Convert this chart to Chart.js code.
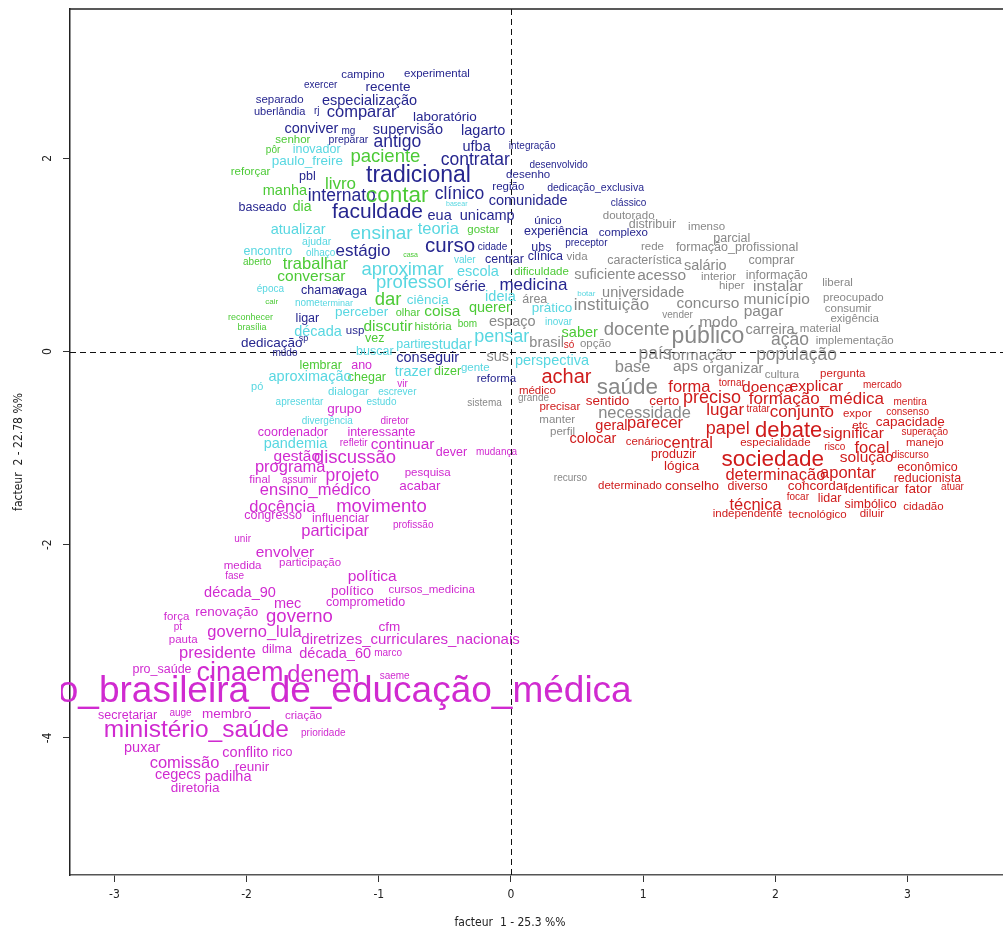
<!DOCTYPE html>
<html>
<head>
<meta charset="utf-8">
<script src="https://cdn.jsdelivr.net/npm/chart.js@4"></script>
<style>
  html, body { margin: 0; padding: 0; background: #fff; }
  canvas { display: block; }
</style>
</head>
<body>
<canvas id="afcChart" width="1003" height="931"></canvas>
<script>
// tick values of the two factor axes
const xTicks = [-3, -2, -1, 0, 1, 2, 3];
const yTicks = [-4, -2, 0, 2];
const xTitle = "facteur  1 - 25.3 %%";
const yTitle = "facteur  2 - 22.78 %%";

// each class: [word, facteur 1, facteur 2, chi2]
const classBlue = [
  ["campino", -1.12, 2.86, 22], ["experimental", -0.56, 2.87, 22], ["exercer", -1.44, 2.76, 16],
  ["recente", -0.93, 2.74, 30], ["separado", -1.75, 2.61, 22], ["especialização", -1.07, 2.59, 34],
  ["uberlândia", -1.75, 2.48, 20], ["rj", -1.47, 2.49, 16], ["comparar", -1.13, 2.48, 42],
  ["laboratório", -0.50, 2.43, 30], ["conviver", -1.51, 2.30, 34], ["mg", -1.23, 2.28, 16],
  ["supervisão", -0.78, 2.29, 34], ["lagarto", -0.21, 2.28, 34], ["preparar", -1.23, 2.19, 18],
  ["antigo", -0.86, 2.17, 46], ["ufba", -0.26, 2.12, 34], ["integração", 0.16, 2.13, 16],
  ["contratar", -0.27, 1.98, 46], ["desenvolvido", 0.36, 1.93, 16], ["pbl", -1.54, 1.81, 26],
  ["tradicional", -0.70, 1.82, 68], ["desenho", 0.13, 1.83, 22], ["internato", -1.28, 1.61, 46],
  ["clínico", -0.39, 1.63, 46], ["região", -0.02, 1.70, 22], ["dedicação_exclusiva", 0.64, 1.69, 18],
  ["comunidade", 0.13, 1.56, 34], ["clássico", 0.89, 1.53, 16], ["baseado", -1.88, 1.49, 26],
  ["faculdade", -1.01, 1.44, 60], ["eua", -0.54, 1.40, 34], ["unicamp", -0.18, 1.40, 34],
  ["único", 0.28, 1.35, 22], ["experiência", 0.34, 1.24, 26], ["complexo", 0.85, 1.23, 22],
  ["estágio", -1.12, 1.04, 44], ["curso", -0.46, 1.09, 58], ["cidade", -0.14, 1.08, 16],
  ["ubs", 0.23, 1.08, 26], ["preceptor", 0.57, 1.12, 16], ["centrar", -0.05, 0.95, 26],
  ["clínica", 0.26, 0.98, 26], ["chamar", -1.43, 0.63, 26], ["vaga", -1.20, 0.62, 30],
  ["série", -0.31, 0.67, 34], ["medicina", 0.17, 0.69, 44], ["ligar", -1.54, 0.34, 26],
  ["usp", -1.18, 0.21, 22], ["dedicação", -1.81, 0.09, 30], ["sp", -1.57, 0.13, 12],
  ["mudo", -1.71, -0.02, 16], ["conseguir", -0.63, -0.07, 34], ["reforma", -0.11, -0.28, 22]
];

const classGreen = [
  ["senhor", -1.65, 2.19, 22], ["pôr", -1.80, 2.08, 16], ["paciente", -0.95, 2.01, 50],
  ["reforçar", -1.97, 1.86, 22], ["livro", -1.29, 1.73, 44], ["manha", -1.71, 1.66, 34],
  ["contar", -0.86, 1.61, 66], ["dia", -1.58, 1.49, 32], ["gostar", -0.21, 1.26, 22],
  ["casa", -0.76, 1.00, 4], ["aberto", -1.92, 0.92, 16], ["trabalhar", -1.48, 0.90, 42],
  ["conversar", -1.51, 0.77, 38], ["dificuldade", 0.23, 0.82, 22], ["cair", -1.81, 0.51, 8],
  ["dar", -0.93, 0.53, 50], ["reconhecer", -1.97, 0.35, 12], ["olhar", -0.78, 0.40, 20],
  ["coisa", -0.52, 0.41, 38], ["querer", -0.16, 0.45, 34], ["brasília", -1.96, 0.25, 12],
  ["discutir", -0.93, 0.26, 38], ["história", -0.59, 0.26, 22], ["bom", -0.33, 0.28, 16],
  ["vez", -1.03, 0.13, 26], ["saber", 0.52, 0.19, 34], ["lembrar", -1.44, -0.15, 26],
  ["dizer", -0.48, -0.21, 26], ["chegar", -1.09, -0.27, 26]
];

const classCyan = [
  ["inovador", -1.47, 2.09, 26], ["paulo_freire", -1.54, 1.97, 30], ["basear", -0.41, 1.53, 4],
  ["atualizar", -1.61, 1.26, 34], ["ensinar", -0.98, 1.22, 52], ["teoria", -0.55, 1.26, 42],
  ["ajudar", -1.47, 1.13, 18], ["encontro", -1.84, 1.04, 26], ["olhaço", -1.44, 1.02, 16],
  ["valer", -0.35, 0.95, 16], ["aproximar", -0.82, 0.84, 50], ["escola", -0.25, 0.82, 34],
  ["época", -1.82, 0.64, 16], ["professor", -0.73, 0.71, 50], ["nome", -1.54, 0.50, 16],
  ["terminar", -1.32, 0.50, 12], ["ciência", -0.63, 0.53, 30], ["ideia", -0.08, 0.56, 34],
  ["botar", 0.57, 0.60, 8], ["perceber", -1.13, 0.41, 30], ["prático", 0.31, 0.45, 30],
  ["década", -1.46, 0.20, 34], ["inovar", 0.36, 0.30, 16], ["partir", -0.76, 0.07, 26],
  ["estudar", -0.48, 0.07, 34], ["pensar", -0.07, 0.15, 48], ["buscar", -1.03, 0.00, 26],
  ["perspectiva", 0.31, -0.10, 34], ["trazer", -0.74, -0.21, 34], ["gente", -0.27, -0.17, 22],
  ["aproximação", -1.52, -0.26, 34], ["pó", -1.92, -0.37, 20], ["dialogar", -1.23, -0.42, 22],
  ["escrever", -0.86, -0.42, 16], ["apresentar", -1.60, -0.53, 16], ["estudo", -0.98, -0.53, 16],
  ["divergência", -1.39, -0.72, 16], ["pandemia", -1.63, -0.96, 34]
];

const classGrey = [
  ["doutorado", 0.89, 1.41, 22], ["distribuir", 1.07, 1.31, 26], ["imenso", 1.48, 1.29, 22],
  ["parcial", 1.67, 1.17, 26], ["rede", 1.07, 1.08, 22], ["formação_profissional", 1.71, 1.08, 26],
  ["vida", 0.50, 0.98, 22], ["característica", 1.01, 0.94, 26], ["salário", 1.47, 0.89, 34],
  ["comprar", 1.97, 0.94, 26], ["suficiente", 0.71, 0.79, 34], ["acesso", 1.14, 0.78, 38],
  ["interior", 1.57, 0.77, 22], ["informação", 2.01, 0.79, 26], ["hiper", 1.67, 0.68, 22],
  ["instalar", 2.02, 0.67, 38], ["liberal", 2.47, 0.71, 22], ["área", 0.18, 0.54, 26],
  ["universidade", 1.00, 0.61, 34], ["município", 2.01, 0.54, 38], ["preocupado", 2.59, 0.56, 22],
  ["instituição", 0.76, 0.48, 44], ["concurso", 1.49, 0.50, 38], ["consumir", 2.55, 0.44, 22],
  ["espaço", 0.01, 0.31, 34], ["vender", 1.26, 0.38, 16], ["pagar", 1.91, 0.41, 38],
  ["exigência", 2.60, 0.34, 22], ["docente", 0.95, 0.22, 50], ["modo", 1.57, 0.30, 38],
  ["público", 1.49, 0.15, 68], ["carreira", 1.96, 0.22, 34], ["material", 2.34, 0.24, 22],
  ["ação", 2.11, 0.12, 46], ["implementação", 2.60, 0.11, 22], ["brasil", 0.27, 0.09, 34],
  ["opção", 0.64, 0.08, 22], ["sus", -0.10, -0.06, 34], ["país", 1.09, -0.03, 46],
  ["formação", 1.43, -0.04, 38], ["população", 2.16, -0.04, 46], ["base", 0.92, -0.16, 42],
  ["aps", 1.32, -0.16, 38], ["organizar", 1.68, -0.18, 34], ["cultura", 2.05, -0.24, 22],
  ["grande", 0.17, -0.48, 16], ["saúde", 0.88, -0.38, 66], ["sistema", -0.20, -0.54, 16],
  ["manter", 0.35, -0.71, 22], ["necessidade", 1.01, -0.64, 42], ["perfil", 0.39, -0.83, 22],
  ["recurso", 0.45, -1.31, 16]
];

const classRed = [
  ["só", 0.44, 0.06, 16], ["pergunta", 2.51, -0.23, 22], ["achar", 0.42, -0.27, 56],
  ["médico", 0.20, -0.41, 22], ["forma", 1.35, -0.37, 42], ["tornar", 1.67, -0.33, 16],
  ["doença", 1.94, -0.37, 38], ["explicar", 2.31, -0.36, 38], ["mercado", 2.81, -0.35, 16],
  ["precisar", 0.37, -0.57, 22], ["sentido", 0.73, -0.52, 30], ["certo", 1.16, -0.51, 30],
  ["preciso", 1.52, -0.48, 48], ["formação_médica", 2.31, -0.49, 44], ["mentira", 3.02, -0.52, 16],
  ["lugar", 1.62, -0.61, 44], ["tratar", 1.87, -0.60, 16], ["conjunto", 2.20, -0.63, 44],
  ["expor", 2.62, -0.64, 22], ["consenso", 3.00, -0.63, 16], ["geral", 0.76, -0.77, 34],
  ["parecer", 1.09, -0.74, 42], ["papel", 1.64, -0.80, 48], ["debate", 2.10, -0.82, 64],
  ["etc", 2.64, -0.77, 22], ["capacidade", 3.02, -0.73, 30], ["significar", 2.59, -0.85, 38],
  ["superação", 3.13, -0.84, 16], ["colocar", 0.62, -0.91, 34], ["cenário", 1.01, -0.93, 22],
  ["central", 1.34, -0.95, 42], ["especialidade", 2.00, -0.95, 22], ["risco", 2.45, -0.99, 16],
  ["focal", 2.73, -1.00, 42], ["manejo", 3.13, -0.94, 22], ["produzir", 1.23, -1.07, 26],
  ["lógica", 1.29, -1.19, 30], ["sociedade", 1.98, -1.12, 66], ["solução", 2.69, -1.10, 38],
  ["discurso", 3.02, -1.07, 16], ["determinação", 2.00, -1.28, 42], ["apontar", 2.55, -1.26, 42],
  ["econômico", 3.15, -1.20, 26], ["reducionista", 3.15, -1.31, 26], ["determinado", 0.90, -1.39, 22],
  ["conselho", 1.37, -1.39, 30], ["diverso", 1.79, -1.40, 26], ["concordar", 2.32, -1.40, 30],
  ["identificar", 2.73, -1.43, 26], ["fator", 3.08, -1.43, 30], ["atuar", 3.34, -1.41, 16],
  ["focar", 2.17, -1.51, 16], ["lidar", 2.41, -1.52, 26], ["simbólico", 2.72, -1.58, 26],
  ["cidadão", 3.12, -1.61, 22], ["técnica", 1.85, -1.59, 42], ["independente", 1.79, -1.68, 22],
  ["tecnológico", 2.32, -1.69, 22], ["diluir", 2.73, -1.68, 22]
];

const classMagenta = [
  ["ano", -1.13, -0.15, 26], ["vir", -0.82, -0.34, 16], ["grupo", -1.26, -0.60, 30],
  ["diretor", -0.88, -0.72, 16], ["coordenador", -1.65, -0.84, 26], ["interessante", -0.98, -0.84, 26],
  ["refletir", -1.19, -0.95, 16], ["continuar", -0.82, -0.96, 38], ["dever", -0.45, -1.05, 26],
  ["mudança", -0.11, -1.04, 16], ["gestão", -1.62, -1.09, 38], ["discussão", -1.18, -1.10, 50],
  ["programa", -1.67, -1.20, 42], ["final", -1.90, -1.33, 22], ["assumir", -1.60, -1.33, 16],
  ["projeto", -1.20, -1.29, 46], ["pesquisa", -0.63, -1.26, 22], ["acabar", -0.69, -1.39, 30],
  ["ensino_médico", -1.48, -1.44, 42], ["docência", -1.73, -1.61, 42], ["movimento", -0.98, -1.61, 50],
  ["congresso", -1.80, -1.70, 26], ["influenciar", -1.29, -1.73, 26], ["profissão", -0.74, -1.80, 16],
  ["participar", -1.33, -1.86, 42], ["unir", -2.03, -1.94, 16], ["envolver", -1.71, -2.08, 38],
  ["participação", -1.52, -2.19, 22], ["medida", -2.03, -2.22, 22], ["fase", -2.09, -2.33, 16],
  ["política", -1.05, -2.33, 38], ["década_90", -2.05, -2.50, 34], ["político", -1.20, -2.48, 30],
  ["cursos_medicina", -0.60, -2.47, 22], ["mec", -1.69, -2.61, 34], ["comprometido", -1.10, -2.60, 26],
  ["força", -2.53, -2.75, 22], ["renovação", -2.15, -2.70, 30], ["governo", -1.60, -2.75, 50],
  ["pt", -2.52, -2.85, 16], ["cfm", -0.92, -2.85, 30], ["pauta", -2.48, -2.98, 22],
  ["governo_lula", -1.94, -2.91, 42], ["diretrizes_curriculares_nacionais", -0.76, -2.98, 36],
  ["presidente", -2.22, -3.13, 42], ["dilma", -1.77, -3.08, 26], ["década_60", -1.33, -3.13, 34],
  ["marco", -0.93, -3.12, 16], ["pro_saúde", -2.64, -3.29, 26], ["cinaem", -2.05, -3.33, 84],
  ["denem", -1.42, -3.35, 70], ["saeme", -0.88, -3.36, 16],
  ["associação_brasileira_de_educação_médica", -1.88, -3.52, 124],
  ["secretariar", -2.90, -3.77, 26], ["auge", -2.50, -3.74, 16], ["membro", -2.15, -3.76, 30],
  ["criação", -1.57, -3.77, 22], ["ministério_saúde", -2.38, -3.92, 74], ["prioridade", -1.42, -3.95, 16],
  ["puxar", -2.79, -4.10, 34], ["conflito", -2.01, -4.16, 34], ["rico", -1.73, -4.15, 26],
  ["comissão", -2.47, -4.26, 42], ["reunir", -1.96, -4.30, 30], ["cegecs", -2.52, -4.38, 34],
  ["padilha", -2.14, -4.40, 34], ["diretoria", -2.39, -4.52, 30]
];

const classes = [
  { words: classBlue, color: "#26268f" },
  { words: classGreen, color: "#4cca36" },
  { words: classCyan, color: "#58d7e1" },
  { words: classGrey, color: "#888888" },
  { words: classRed, color: "#cf1b1b" },
  { words: classMagenta, color: "#d02ad0" }
];

const fontPx = chi2 => 6 + chi2 / 4;
const WORD_FONT = '"Liberation Sans", Arial, sans-serif';
const AXIS_FONT = '"Liberation Sans Narrow", "DejaVu Sans Condensed", sans-serif';

const datasets = classes.map(c => ({
  data: c.words.map(w => ({ x: w[1], y: w[2], word: w[0], chi2: w[3] })),
  textColor: c.color,
  pointRadius: 0,
  pointHoverRadius: 0
}));

// dashed origin lines, box top, axis titles, then the words at their points
const wordLabels = {
  id: "wordLabels",
  beforeDatasetsDraw(chart) {
    const { ctx, chartArea: a, scales } = chart;
    const x0 = Math.round(scales.x.getPixelForValue(0)) + 0.5;
    const y0 = Math.round(scales.y.getPixelForValue(0)) + 0.5;
    ctx.save();
    ctx.strokeStyle = "#111";
    ctx.lineWidth = 1;
    ctx.setLineDash([6, 4]);
    ctx.beginPath();
    ctx.moveTo(x0, a.top);
    ctx.lineTo(x0, a.bottom);
    ctx.moveTo(a.left, y0);
    ctx.lineTo(a.right, y0);
    ctx.stroke();
    ctx.setLineDash([]);
    ctx.strokeStyle = "#222";
    ctx.lineWidth = 1.5;
    ctx.beginPath();
    ctx.moveTo(a.left, a.top);
    ctx.lineTo(a.right, a.top);
    ctx.stroke();

    // axis titles, placed as in the R output
    ctx.fillStyle = "#222";
    ctx.font = "12px " + AXIS_FONT;
    ctx.textAlign = "center";
    ctx.textBaseline = "middle";
    ctx.fillText(xTitle, 510, 923);
    ctx.translate(19, 452);
    ctx.rotate(-Math.PI / 2);
    ctx.fillText(yTitle, 0, 0);
    ctx.restore();
  },
  afterDatasetsDraw(chart) {
    const ctx = chart.ctx;
    ctx.save();
    ctx.beginPath();
    ctx.rect(61, 0, chart.width - 61, chart.height);
    ctx.clip();
    ctx.textAlign = "center";
    ctx.textBaseline = "middle";
    chart.data.datasets.forEach((ds, i) => {
      const meta = chart.getDatasetMeta(i);
      ctx.fillStyle = ds.textColor;
      ds.data.forEach((d, j) => {
        const el = meta.data[j];
        ctx.font = fontPx(d.chi2) + "px " + WORD_FONT;
        ctx.fillText(d.word, el.x, el.y);
      });
    });
    ctx.restore();
  }
};

new Chart(document.getElementById("afcChart"), {
  type: "scatter",
  data: { datasets },
  options: {
    responsive: false,
    animation: false,
    devicePixelRatio: 1,
    layout: { padding: { top: 9, right: 0, left: 0, bottom: 0 } },
    plugins: { legend: { display: false }, tooltip: { enabled: false } },
    events: [],
    scales: {
      x: {
        type: "linear",
        position: "bottom",
        min: -3.336,
        max: 3.722,
        afterBuildTicks: s => { s.ticks = xTicks.map(v => ({ value: v })); },
        afterFit: s => { s.height = 56; s.paddingLeft = 0; s.paddingRight = 0; },
        grid: { drawOnChartArea: false, drawTicks: true, tickLength: 7, color: "#333" },
        border: { display: true, color: "#555", width: 1.5 },
        ticks: { color: "#222", padding: 6, font: { family: AXIS_FONT, size: 12 } },
        title: { display: false }
      },
      y: {
        type: "linear",
        position: "left",
        min: -5.419,
        max: 3.546,
        afterBuildTicks: s => { s.ticks = yTicks.map(v => ({ value: v })); },
        afterFit: s => { s.width = 70; s.paddingTop = 0; s.paddingBottom = 0; },
        grid: { drawOnChartArea: false, drawTicks: true, tickLength: 7, color: "#333" },
        border: { display: true, color: "#222", width: 1.5 },
        ticks: {
          color: "#222", padding: 10, minRotation: 90, maxRotation: 90, crossAlign: "center",
          font: { family: AXIS_FONT, size: 12 }
        },
        title: { display: false }
      }
    }
  },
  plugins: [wordLabels]
});
</script>
</body>
</html>
